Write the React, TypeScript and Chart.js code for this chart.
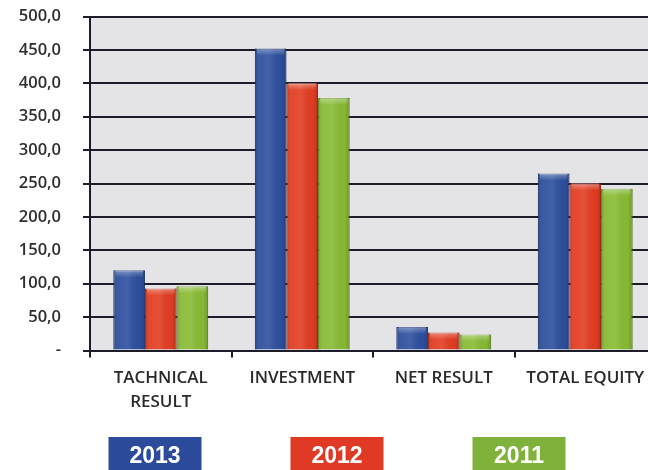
import React, { useEffect, useRef } from "react";
import { Chart, registerables } from "chart.js";

Chart.register(...registerables);

const categories: (string | string[])[] = [["TACHNICAL", "RESULT"], "INVESTMENT", "NET RESULT", "TOTAL EQUITY"];
const years = ["2013", "2012", "2011"];
const values2013 = [120, 452, 35, 265];
const values2012 = [93, 400, 27, 250];
const values2011 = [96, 378, 24, 242];
const yTickStep = 50;
const yMax = 500;

const barColors = ["#2d4f9e", "#e23d22", "#88bb34"];
const barBorders = ["#1f3a7a", "#b82c16", "#6a9a22"];
const legendColors = ["#2c4c9b", "#e03a24", "#80b13a"];

const backgroundPlugin = {
  id: "plotBg",
  beforeDraw(chart: any) {
    const { ctx, chartArea } = chart;
    ctx.save();
    ctx.fillStyle = "#e4e4e7";
    ctx.fillRect(chartArea.left, chartArea.top, chartArea.right - chartArea.left, chartArea.bottom - chartArea.top);
    ctx.restore();
  },
};

const bevelPlugin = {
  id: "bevel",
  afterDatasetsDraw(chart: any) {
    const ctx = chart.ctx;
    ctx.save();
    chart.data.datasets.forEach((_ds: any, di: number) => {
      const meta = chart.getDatasetMeta(di);
      meta.data.forEach((el: any) => {
        const left = el.x - el.width / 2;
        const top = el.y;
        const h = el.base - el.y;
        const w = el.width;
        const g = ctx.createLinearGradient(left, 0, left + w, 0);
        g.addColorStop(0, "rgba(0,0,0,0.18)");
        g.addColorStop(0.15, "rgba(255,255,255,0.06)");
        g.addColorStop(0.45, "rgba(255,255,255,0.1)");
        g.addColorStop(0.85, "rgba(0,0,0,0.02)");
        g.addColorStop(1, "rgba(0,0,0,0.2)");
        ctx.fillStyle = g;
        ctx.fillRect(left, top, w, h);
        const cap = Math.min(7, h);
        const g2 = ctx.createLinearGradient(0, top, 0, top + cap);
        g2.addColorStop(0, "rgba(255,255,255,0.35)");
        g2.addColorStop(1, "rgba(255,255,255,0)");
        ctx.fillStyle = g2;
        ctx.fillRect(left + 2, top, w - 4, cap);
      });
    });
    ctx.restore();
  },
};

const boxLegendPlugin = {
  id: "boxLegend",
  afterDraw(chart: any, _args: any, opts: any) {
    const ctx = chart.ctx;
    ctx.save();
    chart.data.datasets.forEach((ds: any, i: number) => {
      const cx = opts.centers[i];
      ctx.fillStyle = opts.colors[i];
      ctx.fillRect(cx - opts.width / 2, opts.top, opts.width, opts.height);
      ctx.fillStyle = "#ffffff";
      ctx.font = "bold 23px 'Liberation Sans', Arial, sans-serif";
      ctx.textAlign = "center";
      ctx.textBaseline = "alphabetic";
      ctx.fillText(ds.label, cx, opts.baseline);
    });
    ctx.restore();
  },
};

export default function App() {
  const ref = useRef<HTMLCanvasElement>(null);

  useEffect(() => {
    if (!ref.current) return;
    const series = [values2013, values2012, values2011];
    const chart = new Chart(ref.current, {
      type: "bar",
      data: {
        labels: categories,
        datasets: years.map((y, i) => ({
          label: y,
          data: series[i],
          backgroundColor: barColors[i],
          borderColor: barBorders[i],
          borderWidth: 1,
          barPercentage: 1,
          categoryPercentage: 0.67,
        })),
      },
      plugins: [backgroundPlugin, bevelPlugin, boxLegendPlugin],
      options: {
        animation: false,
        responsive: false,
        devicePixelRatio: 1,
        layout: { padding: { top: 0, right: 4, left: 0, bottom: 0 } },
        plugins: {
          legend: { display: false },
          tooltip: { enabled: false },
          boxLegend: {
            centers: [155, 337, 519],
            colors: legendColors,
            width: 93,
            top: 437,
            height: 40,
            baseline: 463,
          },
        } as any,
        scales: {
          x: {
            afterFit(scale: any) {
              scale.height = 119.5;
            },
            grid: {
              offset: true,
              drawOnChartArea: false,
              drawTicks: true,
              tickLength: 7,
              color: "#1c1c2a",
              lineWidth: 2,
            },
            border: { display: true, color: "#1c1c2a", width: 2 },
            ticks: {
              color: "#2a2a2a",
              font: { family: "'Open Sans', sans-serif", size: 17, weight: "600" as any, lineHeight: 1.4 },
              padding: 9,
              maxRotation: 0,
              autoSkip: false,
            },
          },
          y: {
            min: 0,
            max: yMax,
            afterFit(scale: any) {
              scale.width = 90;
              scale.paddingTop = 16.5;
              scale.paddingBottom = 10;
            },
            grid: {
              color: "#1c1c2a",
              lineWidth: 2,
              tickLength: 7,
            },
            border: { display: true, color: "#1c1c2a", width: 2 },
            ticks: {
              stepSize: yTickStep,
              padding: 22,
              color: "#2e2e2e",
              font: { family: "'Open Sans', sans-serif", size: 16.5, weight: "600" as any },
              callback: (v: any) => (Number(v) === 0 ? "-" : Number(v).toFixed(1).replace(".", ",")),
            },
          },
        },
      },
    });
    return () => chart.destroy();
  }, []);

  return (
    <div
      style={{
        position: "fixed",
        left: 0,
        top: 0,
        width: 648,
        height: 470,
        overflow: "hidden",
        background: "#ffffff",
      }}
    >
      <canvas ref={ref} width={660} height={470} style={{ display: "block" }} />
    </div>
  );
}
